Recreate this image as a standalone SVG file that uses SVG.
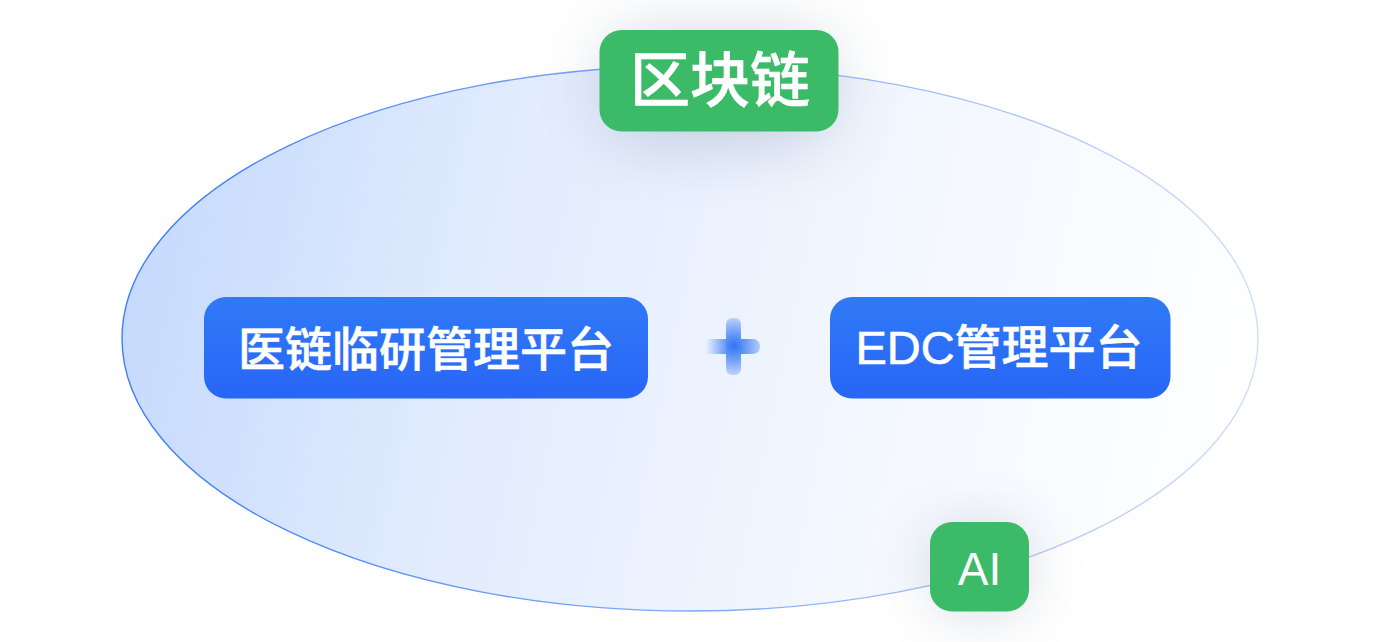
<svg xmlns="http://www.w3.org/2000/svg" width="1380" height="642" viewBox="0 0 1380 642">
<defs>
<linearGradient id="ef" x1="0" y1="0.45" x2="1" y2="0.55"><stop offset="0" stop-color="#c6dafd"/><stop offset="0.3" stop-color="#e0ebfd"/><stop offset="0.6" stop-color="#f0f5fe"/><stop offset="1" stop-color="#ffffff"/></linearGradient>
<linearGradient id="es" x1="0" y1="0" x2="1" y2="0"><stop offset="0" stop-color="#3f7df5"/><stop offset="0.5" stop-color="#7fa8f8"/><stop offset="1" stop-color="#cfdff9"/></linearGradient>
<linearGradient id="bf" x1="0" y1="0" x2="0" y2="1"><stop offset="0" stop-color="#3079f7"/><stop offset="1" stop-color="#2866f6"/></linearGradient>
<linearGradient id="ph" gradientUnits="userSpaceOnUse" x1="706" y1="0" x2="760" y2="0"><stop offset="0" stop-color="#2f74f6" stop-opacity="0"/><stop offset="0.52" stop-color="#2f74f6"/><stop offset="1" stop-color="#b4ccfb"/></linearGradient>
<radialGradient id="pv" gradientUnits="userSpaceOnUse" cx="734" cy="346" r="30"><stop offset="0" stop-color="#2f74f6"/><stop offset="0.45" stop-color="#6d9df8"/><stop offset="1" stop-color="#c4d8fc"/></radialGradient>
<filter id="sh" x="-80%" y="-120%" width="260%" height="340%"><feGaussianBlur stdDeviation="36"/></filter>
<filter id="sh2" x="-100%" y="-100%" width="300%" height="300%"><feGaussianBlur stdDeviation="30"/></filter>
<style>
.t{fill:#fff;stroke:#fff;stroke-width:0.6;font-family:"Liberation Sans","Noto Sans CJK SC",sans-serif;text-anchor:middle;font-weight:500}
.g{fill:#3bba68}
.b{fill:url(#bf)}
</style>
</defs>
<rect width="1380" height="642" fill="#fff"/>
<g id="ellipse"><ellipse cx="690" cy="338.500" rx="568" ry="272.500" fill="url(#ef)" stroke="url(#es)" stroke-width="1.4"/></g>
<g id="connectors"/>
<g id="node-blockchain">
<rect x="610" y="40" width="217" height="95" rx="24" fill="#4f5f80" opacity="0.3" filter="url(#sh)"/>
<rect class="g" x="599.5" y="30" width="239" height="101.5" rx="22"/>
<text class="t" x="720" y="102" font-size="60">区块链</text>
</g>
<g id="node-ai">
<rect x="935" y="530" width="90" height="80" rx="22" fill="#4f5f80" opacity="0.26" filter="url(#sh2)"/>
<rect class="g" x="930" y="522" width="99" height="89.5" rx="22"/>
<text class="t" x="979.500" y="585" font-size="46" style="stroke-width:0">AI</text>
</g>
<g id="node-platform">
<rect class="b" x="204" y="297" width="444" height="101.500" rx="22"/>
<text class="t" x="426" y="366" font-size="47">医链临研管理平台</text>
</g>
<g id="node-plus">
<path fill="url(#ph)" d="M706 339H753a7 7 0 0 1 7 7v1a7 7 0 0 1-7 7H706Z"/>
<rect fill="url(#pv)" x="726" y="318" width="15" height="57" rx="6"/>
</g>
<g id="node-edc">
<rect class="b" x="830" y="297" width="340.500" height="101.500" rx="22"/>
<text class="t" x="999" y="364" font-size="47">EDC管理平台</text>
</g>
</svg>
